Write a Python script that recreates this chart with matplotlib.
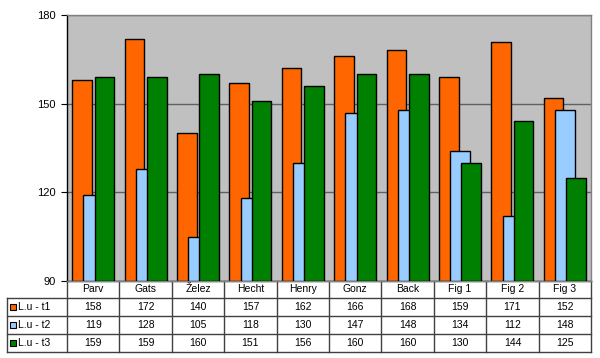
import matplotlib
matplotlib.use("Agg")
import matplotlib.pyplot as plt
import numpy as np
from matplotlib.transforms import blended_transform_factory
from matplotlib.patches import Rectangle

categories = ["Parv", "Gats", "Želez", "Hecht", "Henry", "Gonz", "Back", "Fig 1", "Fig 2", "Fig 3"]
series_names = ["L.u - t1", "L.u - t2", "L.u - t3"]
t1 = [158, 172, 140, 157, 162, 166, 168, 159, 171, 152]
t2 = [119, 128, 105, 118, 130, 147, 148, 134, 112, 148]
t3 = [159, 159, 160, 151, 156, 160, 160, 130, 144, 125]
colors = ["#FF6600", "#99CCFF", "#008000"]
yticks = [90, 120, 150, 180]

plt.rcParams['font.family'] = ['Liberation Sans', 'DejaVu Sans']

W, H = 600, 358
fig = plt.figure(figsize=(W / 100, H / 100), dpi=100)
ax_l, ax_r, ax_t, ax_b = 67, 591, 15, 281
ax = fig.add_axes([ax_l / W, (H - ax_b) / H, (ax_r - ax_l) / W, (ax_b - ax_t) / H])
ax.set_facecolor("#C0C0C0")

x = np.arange(len(categories))
w = 0.375
off = 0.215
for i, (vals, c) in enumerate(zip([t1, t2, t3], colors)):
    ax.bar(x + (i - 1) * off, np.array(vals) - 90, bottom=90, width=w, color=c,
           edgecolor="black", linewidth=1.0, zorder=2 + i)

ax.set_xlim(-0.5, len(categories) - 0.5)
ax.set_ylim(90, 180)
ax.set_yticks(yticks)
ax.set_yticklabels([str(v) for v in yticks], fontsize=8)
ax.yaxis.grid(True, color="#606060", linewidth=1.0, zorder=1)
ax.set_axisbelow(True)
ax.set_xticks([])
ax.tick_params(axis="y", length=4, width=0.8, color="black", pad=4)
for s in ["top", "right", "bottom"]:
    ax.spines[s].set_color("#808080")
    ax.spines[s].set_linewidth(1.0)
ax.spines["left"].set_color("black")
ax.spines["left"].set_linewidth(1.0)

# data table below
tr = blended_transform_factory(ax.transData, ax.transAxes)
catw = (ax_r - ax_l) / len(categories)
def yax(py):
    return (ax_b - py) / (ax_b - ax_t)
def xd(px):
    return (px - ax_l) / catw - 0.5

rows_px = [281, 298, 316, 334, 352]
ry = [yax(p) for p in rows_px]
xl = xd(7)
xr = len(categories) - 0.5
lc = "#404040"
lw = 1.0

# horizontal lines
ax.plot([-0.5, xr], [ry[0], ry[0]], color=lc, lw=lw, transform=tr, clip_on=False)
for yy in ry[1:]:
    ax.plot([xl, xr], [yy, yy], color=lc, lw=lw, transform=tr, clip_on=False)
# vertical lines
for k in range(len(categories) + 1):
    ax.plot([k - 0.5, k - 0.5], [ry[0], ry[-1]], color=lc, lw=lw, transform=tr, clip_on=False)
ax.plot([xl, xl], [ry[1], ry[-1]], color=lc, lw=lw, transform=tr, clip_on=False)

# header
for k, cat in enumerate(categories):
    ax.text(k, (ry[0] + ry[1]) / 2, cat, ha="center", va="center", fontsize=7.5,
            transform=tr, clip_on=False)
# rows
for r, (name, vals, c) in enumerate(zip(series_names, [t1, t2, t3], colors)):
    yc = (ry[r + 1] + ry[r + 2]) / 2
    ksz = 6
    key = Rectangle((xd(10), yc - (ksz / 2) / (ax_b - ax_t)), ksz / catw, ksz / (ax_b - ax_t),
                    facecolor=c, edgecolor="black", linewidth=0.8, transform=tr, clip_on=False)
    ax.add_patch(key)
    ax.text(xd(18), yc, name, ha="left", va="center", fontsize=7.5, transform=tr, clip_on=False)
    for k, v in enumerate(vals):
        ax.text(k, yc, str(v), ha="center", va="center", fontsize=7.5, transform=tr, clip_on=False)

fig.savefig("out.png", dpi=100, facecolor="white")
